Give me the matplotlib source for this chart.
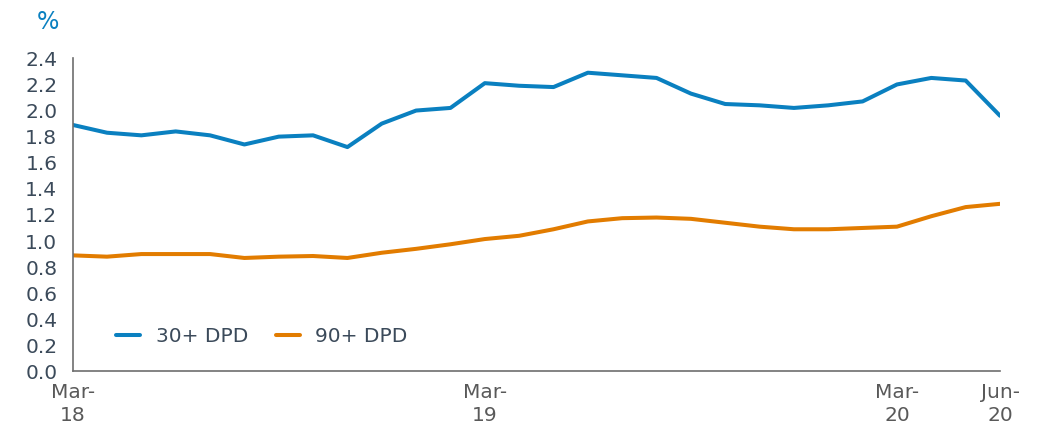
import matplotlib
matplotlib.use('Agg')
import matplotlib.pyplot as plt

# monthly, Mar-18 .. Jun-20
months = list(range(28))
dpd30 = [1.89, 1.83, 1.81, 1.84, 1.81, 1.74, 1.80, 1.81, 1.72, 1.90,
         2.00, 2.02, 2.21, 2.19, 2.18, 2.29, 2.27, 2.25, 2.13, 2.05,
         2.04, 2.02, 2.04, 2.07, 2.20, 2.25, 2.23, 1.96]
dpd90 = [0.89, 0.88, 0.90, 0.90, 0.90, 0.87, 0.88, 0.885, 0.87, 0.91,
         0.94, 0.975, 1.015, 1.04, 1.09, 1.15, 1.175, 1.18, 1.17, 1.14,
         1.11, 1.09, 1.09, 1.10, 1.11, 1.19, 1.26, 1.285]
tick_pos = [0, 12, 24, 27]
tick_labels = ['Mar-\n18', 'Mar-\n19', 'Mar-\n20', 'Jun-\n20']
y_ticks = [0.0, 0.2, 0.4, 0.6, 0.8, 1.0, 1.2, 1.4, 1.6, 1.8, 2.0, 2.2, 2.4]

blue = '#0a80c0'
orange = '#e27c00'

fig = plt.figure(figsize=(10.38, 4.26), dpi=100)
ax = fig.add_axes([0.07, 0.128, 0.8934, 0.735])

ax.plot(months, dpd30, color=blue, lw=2.9, label='30+ DPD', solid_capstyle='round')
ax.plot(months, dpd90, color=orange, lw=2.9, label='90+ DPD', solid_capstyle='round')

ax.set_xlim(0, 27)
ax.set_ylim(0, 2.4)
ax.set_yticks(y_ticks)
ax.set_yticklabels([f'{v:.1f}' for v in y_ticks])
ax.set_xticks(tick_pos)
ax.set_xticklabels(tick_labels)
ax.tick_params(axis='y', length=0, pad=11, labelsize=14.5, labelcolor='#3b4a5a')
ax.tick_params(axis='x', length=0, pad=8, labelsize=14.5, labelcolor='#595959')
for lbl in ax.get_xticklabels():
    lbl.set_linespacing(1.3)

for side in ['top', 'right']:
    ax.spines[side].set_visible(False)
for side in ['left', 'bottom']:
    ax.spines[side].set_color('#6e6e6e')
    ax.spines[side].set_linewidth(1.2)

ax.legend(loc='center left', bbox_to_anchor=(0.047, 0.112), ncol=2, frameon=False,
          fontsize=14.5, handlelength=1.2, handletextpad=0.75, columnspacing=1.4,
          borderpad=0, borderaxespad=0, labelcolor='#3b4a5a')

fig.text(48 / 1038, 1 - 22 / 426, '%', color=blue, fontsize=17, ha='center', va='center')

fig.savefig('out.png', dpi=100)
